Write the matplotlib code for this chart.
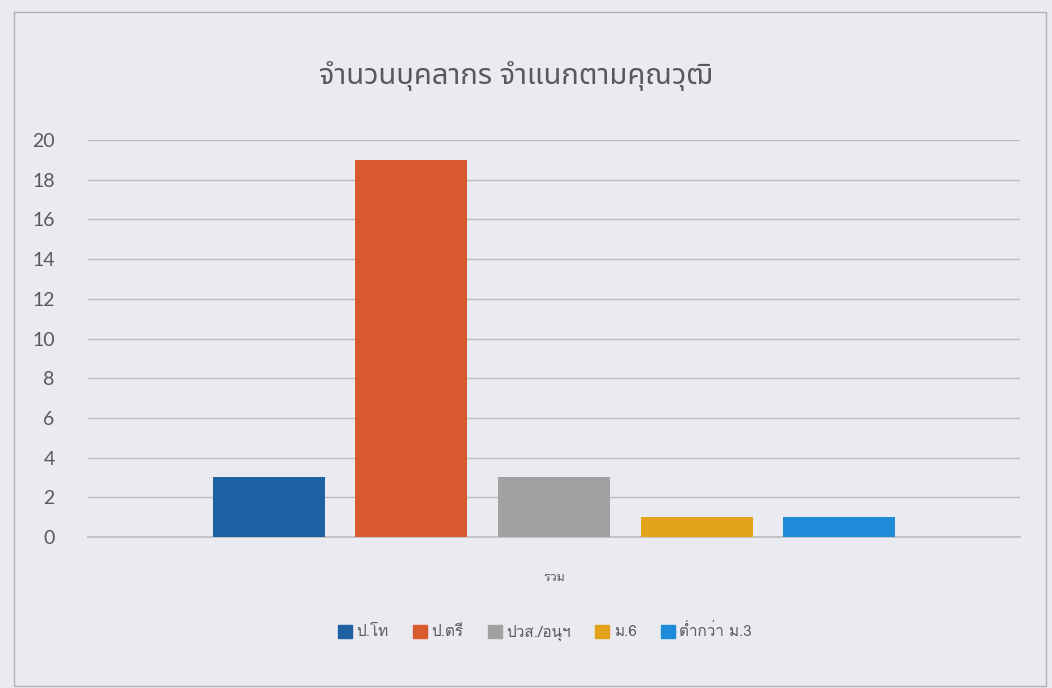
import matplotlib
matplotlib.use("Agg")
import matplotlib.pyplot as plt
from matplotlib.patches import Patch

TITLE = "จำนวนบุคลากร จำแนกตามคุณวุฒิ"
CATEGORY = "รวม"
SERIES = ["ป.โท", "ป.ตรี", "ปวส./อนุฯ", "ม.6", "ต่ำกว่า ม.3"]
VALUES = [3, 19, 3, 1, 1]
COLORS = ["#1f62a3", "#d85a2e", "#a0a2a2", "#e2a21c", "#1e8bd8"]
Y_TICKS = list(range(0, 21, 2))

plt.rcParams["font.family"] = ["Lato", "Noto Sans Thai", "DejaVu Sans"]
TITLE_FONT = ["Noto Sans Thai", "DejaVu Sans"]
SMALL_FONT = ["Loma", "Noto Sans Thai", "DejaVu Sans"]

BG = "#e9ebf0"
TEXT = "#595959"
GRID = "#bdbdbd"

fig = plt.figure(figsize=(10.52, 6.88), dpi=100, facecolor=BG)
ax = fig.add_axes([88 / 1052, 1 - 537 / 688, 932 / 1052, 397 / 688])
ax.set_facecolor(BG)

n = len(SERIES)
step = 0.153
width = 0.12
for i, (name, val, col) in enumerate(zip(SERIES, VALUES, COLORS)):
    ax.bar((i - (n - 1) / 2) * step, val, width=width, color=col, label=name, zorder=3)

ax.set_xlim(-0.5, 0.5)
ax.set_ylim(0, 20)
ax.set_yticks(Y_TICKS)
ax.set_xticks([0])
ax.set_xticklabels([CATEGORY], fontsize=9, color=TEXT, family=SMALL_FONT)
ax.tick_params(axis="x", length=0, pad=25)
ax.tick_params(axis="y", length=0, pad=24, labelsize=14, labelcolor=TEXT)
ax.grid(axis="y", color=GRID, linewidth=1, zorder=0)
ax.axhline(0, color=GRID, linewidth=1.2, zorder=2, clip_on=False)
for s in ax.spines.values():
    s.set_visible(False)

fig.text(0.49, 1 - 76 / 688, TITLE, ha="center", va="center", fontsize=21, color=TEXT,
         family=TITLE_FONT)

handles = [Patch(color=c) for c in COLORS]
fig.legend(handles, SERIES, loc="center", bbox_to_anchor=(0.518, 1 - 632 / 688), ncol=n,
           frameon=False, prop={"family": SMALL_FONT, "size": 11}, labelcolor=TEXT,
           handlelength=0.9, handleheight=0.9, handletextpad=0.3, columnspacing=1.6)

# outer frame of the chart
fig.patches.append(plt.Rectangle((14 / 1052, 2 / 688), 1032 / 1052, 674 / 688, transform=fig.transFigure,
                                 fill=False, edgecolor="#b0b0b0", linewidth=1))

fig.savefig("out.png", dpi=100, facecolor=BG)
